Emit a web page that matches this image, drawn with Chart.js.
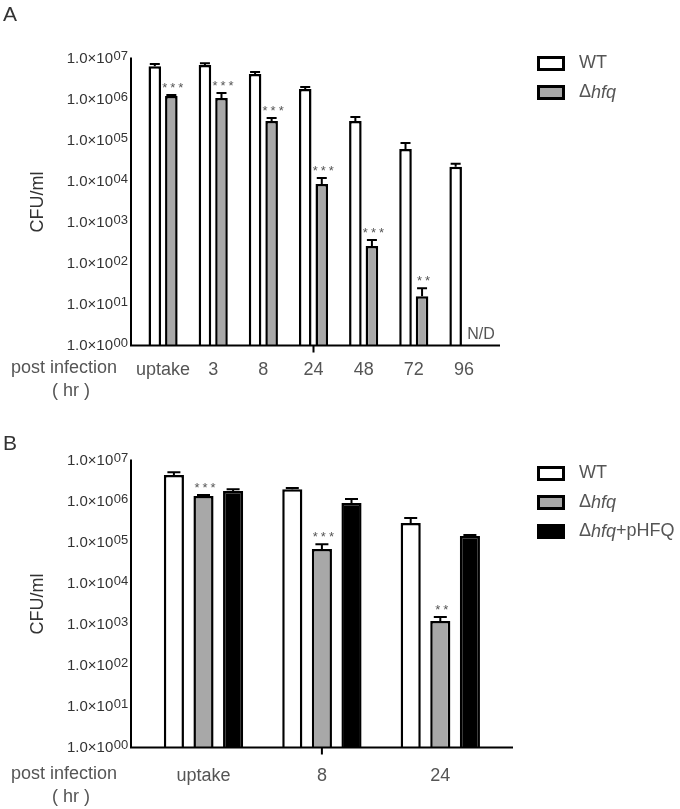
<!DOCTYPE html>
<html>
<head>
<meta charset="utf-8">
<script src="https://cdn.jsdelivr.net/npm/chart.js@4.4.0/dist/chart.umd.min.js"></script>
<style>
body { margin: 0; background: #fff; }
canvas { display: block; }
</style>
</head>
<body>
<canvas id="chartA" width="680" height="410"></canvas>
<canvas id="chartB" width="680" height="399"></canvas>
<script>
//Panel A: time course
const hoursA = ['uptake', '3', '8', '24', '48', '72', '96'];
const wtA = [6.5e6, 6.9e6, 4.2e6, 1.8e6, 3.0e5, 6.2e4, 2.3e4];
const wtErrA = [0.8e6, 0.8e6, 0.5e6, 0.22e6, 0.75e5, 2.5e4, 0.4e4];
const hfqA = [1.22e6, 1.09e6, 3.0e5, 8.7e3, 267, 16, null];
const hfqErrA = [0.07e6, 0.35e6, 0.55e5, 3.5e3, 107, 9, null];
const starsA = ['***', '***', '***', '***', '***', '**', ''];

//Panel B: complementation
const hoursB = ['uptake', '8', '24'];
const wtB = [4.4e6, 2.0e6, 3.0e5];
const wtErrB = [0.8e6, 0.12e6, 0.97e5];
const hfqB = [1.36e6, 6.9e4, 1.22e3];
const hfqErrB = [0.08e6, 2.2e4, 0.3e3];
const compB = [1.8e6, 9.2e5, 1.44e5];
const compErrB = [0.2e6, 0.23e6, 0.08e5];
const starsB = ['***', '***', '**'];

//Shared axis ticks and names
const yTicks = [1, 10, 100, 1e3, 1e4, 1e5, 1e6, 1e7];
const yTickBase = '1.0×10';
const yTickExponents = ['00', '01', '02', '03', '04', '05', '06', '07'];
const seriesNames = ['WT', 'Δhfq', 'Δhfq+pHFQ'];
const seriesColors = ['#ffffff', '#a8a8a8', '#000000'];

const FONT = "'Liberation Sans', Arial, sans-serif";
const EXP_ZONE = 15; //room left for the exponent after each tick label

//Draw a name with "hfq" in italics
function drawName(ctx, name, x, y) {
    const parts = name.split(/(hfq)/);
    for (let i = 0; i < parts.length; i++) {
        if (!parts[i]) continue;
        ctx.font = (parts[i] == 'hfq' ? 'italic ' : '') + '18px ' + FONT;
        ctx.fillText(parts[i], x, y);
        x += ctx.measureText(parts[i]).width;
    }
}

//Axes, error bars, stars, legend and labels
const decorPlugin = {
    id: 'decor',
    afterDatasetsDraw(chart, args, opts) {
        const ctx = chart.ctx;
        const area = chart.chartArea;
        const yScale = chart.scales.y;
        const xScale = chart.scales.x;
        ctx.save();

        //Error bars (upward only)
        chart.data.datasets.forEach((ds, di) => {
            const meta = chart.getDatasetMeta(di);
            ds.data.forEach((v, i) => {
                if (v == null || ds.errors[i] == null) return;
                const bar = meta.data[i];
                const yTop = yScale.getPixelForValue(v + ds.errors[i]);
                ctx.strokeStyle = '#000';
                ctx.lineWidth = 2;
                ctx.beginPath();
                ctx.moveTo(bar.x, bar.y);
                ctx.lineTo(bar.x, yTop);
                ctx.moveTo(bar.x - opts.cap / 2, yTop);
                ctx.lineTo(bar.x + opts.cap / 2, yTop);
                ctx.stroke();
            });
        });

        //Significance stars and N/D over the mutant bars
        const hfqSet = chart.data.datasets[1];
        const hfqMeta = chart.getDatasetMeta(1);
        ctx.fillStyle = '#555';
        opts.stars.forEach((s, i) => {
            const bar = hfqMeta.data[i];
            const v = hfqSet.data[i];
            if (v == null) {
                ctx.font = '16px ' + FONT;
                ctx.textAlign = 'left';
                ctx.textBaseline = 'alphabetic';
                ctx.fillText('N/D', bar.x - 5, area.bottom - 7);
                return;
            }
            const yTop = yScale.getPixelForValue(v + hfqSet.errors[i]);
            ctx.font = '13px ' + FONT;
            ctx.textAlign = 'center';
            ctx.textBaseline = 'middle';
            ctx.letterSpacing = '3px';
            ctx.fillText(s, bar.x + 3, yTop - 7);
            ctx.letterSpacing = '0px';
        });

        //Exponents of the y tick labels
        ctx.fillStyle = '#333';
        ctx.font = '13px ' + FONT;
        ctx.textAlign = 'left';
        ctx.textBaseline = 'alphabetic';
        yScale.ticks.forEach((t, i) => {
            const py = yScale.getPixelForValue(t.value);
            ctx.fillText(yTickExponents[i], area.left - opts.yPad - EXP_ZONE + 0.5, py + 1.5);
        });

        //Axis lines
        ctx.strokeStyle = '#000';
        ctx.lineWidth = 2;
        const x0 = area.left - opts.extL;
        ctx.beginPath();
        ctx.moveTo(x0, area.top - 1);
        ctx.lineTo(x0, area.bottom);
        ctx.lineTo(area.right + opts.extR, area.bottom);
        const mid = Math.floor(xScale.getLabels().length / 2);
        const xm = xScale.getPixelForValue(mid);
        ctx.moveTo(xm, area.bottom);
        ctx.lineTo(xm, area.bottom + 7);
        ctx.stroke();

        //Left side texts
        ctx.fillStyle = '#555';
        ctx.font = '18px ' + FONT;
        ctx.textAlign = 'center';
        ctx.textBaseline = 'middle';
        ctx.fillText('post infection', 64, area.bottom + opts.labelDy);
        ctx.fillText('( hr )', 71, area.bottom + opts.labelDy + 23);

        ctx.fillStyle = '#333';
        ctx.font = '21px ' + FONT;
        ctx.textAlign = 'left';
        ctx.textBaseline = 'top';
        ctx.fillText(opts.letter, 3, opts.letterY);

        //Legend
        ctx.textBaseline = 'middle';
        chart.data.datasets.forEach((ds, di) => {
            const cy = opts.legendY + di * 29;
            ctx.fillStyle = ds.backgroundColor;
            ctx.fillRect(538.5, cy - 6, 25, 12);
            ctx.strokeStyle = '#000';
            ctx.lineWidth = 3;
            ctx.strokeRect(538.5, cy - 6, 25, 12);
            ctx.fillStyle = '#555';
            drawName(ctx, ds.label, 579, cy);
        });
        ctx.restore();
    }
};

function makeDataset(i, values, errors, cp, bp) {
    return {
        label: seriesNames[i],
        data: values,
        errors: errors,
        backgroundColor: seriesColors[i],
        borderColor: '#000',
        borderWidth: 2.5,
        categoryPercentage: cp,
        barPercentage: bp
    };
}

function makeOptions(cfg) {
    cfg.decor.yPad = cfg.yPad;
    return {
        responsive: false,
        animation: false,
        layout: { padding: { left: 27, right: cfg.padRight, top: cfg.padTop, bottom: cfg.padBottom } },
        scales: {
            x: {
                type: 'category',
                grid: { display: false, drawTicks: false },
                border: { display: false },
                ticks: { color: '#555', font: { size: 18, family: FONT }, padding: cfg.xPad, maxRotation: 0, autoSkip: false },
                afterFit: (scale) => { scale.height = 40; }
            },
            y: {
                type: 'logarithmic',
                min: 1,
                max: 1e7,
                grid: { display: false, drawTicks: false },
                border: { display: false },
                afterBuildTicks: (scale) => { scale.ticks = yTicks.map(v => ({ value: v })); },
                afterFit: (scale) => { scale.width = cfg.yWidth; },
                ticks: {
                    autoSkip: false,
                    color: '#333',
                    font: { size: 15, family: FONT },
                    padding: cfg.yPad + EXP_ZONE,
                    callback: () => yTickBase
                },
                title: { display: true, text: 'CFU/ml', color: '#333', font: { size: 18, family: FONT }, padding: 0 }
            }
        },
        plugins: {
            legend: { display: false },
            tooltip: { enabled: false },
            decor: cfg.decor
        }
    };
}

//Panel A chart
new Chart(document.getElementById('chartA').getContext('2d'), {
    type: 'bar',
    data: {
        labels: hoursA,
        datasets: [
            makeDataset(0, wtA, wtErrA, 0.66, 0.76),
            makeDataset(1, hfqA, hfqErrA, 0.66, 0.76)
        ]
    },
    options: makeOptions({
        padRight: 191, padTop: 58.5, padBottom: 24.5, yWidth: 111, yPad: 10, xPad: 14,
        decor: { letter: 'A', letterY: 5, extL: 7, extR: 11, cap: 10, stars: starsA, legendY: 63.5, labelDy: 22.5 }
    }),
    plugins: [decorPlugin]
});

//Panel B chart
new Chart(document.getElementById('chartB').getContext('2d'), {
    type: 'bar',
    data: {
        labels: hoursB,
        datasets: [
            makeDataset(0, wtB, wtErrB, 0.75, 0.68),
            makeDataset(1, hfqB, hfqErrB, 0.75, 0.68),
            makeDataset(2, compB, compErrB, 0.75, 0.68)
        ]
    },
    options: makeOptions({
        padRight: 180.5, padTop: 50.5, padBottom: 21.5, yWidth: 117.3, yPad: 16, xPad: 18,
        decor: { letter: 'B', letterY: 24, extL: 13.3, extR: 13.5, cap: 13, stars: starsB, legendY: 63.5, labelDy: 26.5 }
    }),
    plugins: [decorPlugin]
});
</script>
</body>
</html>
